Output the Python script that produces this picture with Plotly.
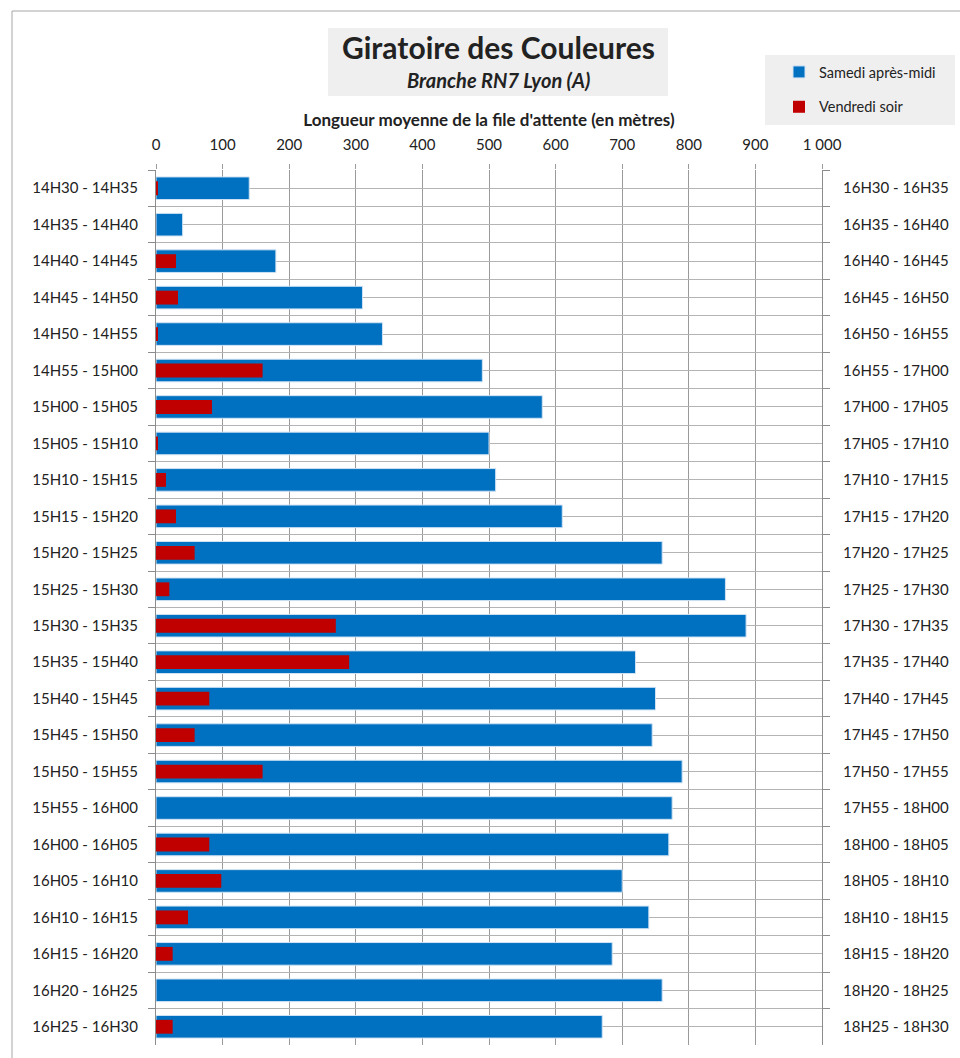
import plotly.graph_objects as go

# Time slots: Saturday afternoon (left axis) and Friday evening (right axis)
creneaux_samedi = [
    "14H30 - 14H35", "14H35 - 14H40", "14H40 - 14H45", "14H45 - 14H50",
    "14H50 - 14H55", "14H55 - 15H00", "15H00 - 15H05", "15H05 - 15H10",
    "15H10 - 15H15", "15H15 - 15H20", "15H20 - 15H25", "15H25 - 15H30",
    "15H30 - 15H35", "15H35 - 15H40", "15H40 - 15H45", "15H45 - 15H50",
    "15H50 - 15H55", "15H55 - 16H00", "16H00 - 16H05", "16H05 - 16H10",
    "16H10 - 16H15", "16H15 - 16H20", "16H20 - 16H25", "16H25 - 16H30",
]
creneaux_vendredi = [
    "16H30 - 16H35", "16H35 - 16H40", "16H40 - 16H45", "16H45 - 16H50",
    "16H50 - 16H55", "16H55 - 17H00", "17H00 - 17H05", "17H05 - 17H10",
    "17H10 - 17H15", "17H15 - 17H20", "17H20 - 17H25", "17H25 - 17H30",
    "17H30 - 17H35", "17H35 - 17H40", "17H40 - 17H45", "17H45 - 17H50",
    "17H50 - 17H55", "17H55 - 18H00", "18H00 - 18H05", "18H05 - 18H10",
    "18H10 - 18H15", "18H15 - 18H20", "18H20 - 18H25", "18H25 - 18H30",
]

# Mean queue length (metres)
samedi = [140, 40, 180, 310, 340, 490, 580, 500, 510, 610, 760, 855,
          886, 720, 750, 745, 790, 775, 770, 700, 740, 685, 760, 670]
vendredi = [3, 0, 30, 33, 3, 160, 84, 3, 15, 30, 58, 20,
            270, 290, 80, 58, 160, 0, 80, 98, 48, 25, 0, 25]

FONT = "Lato"
TXT = "#222222"
BLUE = "#0070c0"
RED = "#c00000"

W, H = 960, 1058
L, R, T, B = 156, 138, 170, 13
pw, ph = W - L - R, H - T - B


def px_x(p):
    return (p - L) / pw


def px_y(p):
    return (H - B - p) / ph


fig = go.Figure()
fig.add_trace(go.Bar(
    y=creneaux_samedi, x=samedi, orientation="h",
    name="Samedi après-midi", legendgroup="samedi",
    marker=dict(color=BLUE, line=dict(color="#cfe2f4", width=1)),
    width=0.62, yaxis="y",
))
fig.add_trace(go.Bar(
    y=creneaux_vendredi, x=vendredi, orientation="h",
    name="Vendredi soir", legendgroup="vendredi",
    marker=dict(color=RED, line=dict(width=0)),
    width=0.38, yaxis="y2",
))

n = len(creneaux_samedi)

fig.update_layout(
    width=W, height=H,
    margin=dict(l=L, r=R, t=T, b=B),
    paper_bgcolor="white", plot_bgcolor="white",
    separators=", ",
    barmode="overlay",
    font=dict(family=FONT, size=15, color=TXT),
    xaxis=dict(
        side="top", range=[0, 1000], dtick=100, tickformat=",d",
        showgrid=True, gridcolor="#9a9a9a", gridwidth=1,
        zeroline=False, showline=False,
        ticks="outside", ticklen=5, tickcolor="#9a9a9a",
        ticklabelstandoff=8,
        tickfont=dict(size=15, color=TXT),
        title=dict(text="<b>Longueur moyenne de la file d'attente (en mètres)</b>",
                   font=dict(size=17, color=TXT), standoff=4),
    ),
    yaxis=dict(
        type="category", categoryorder="array", categoryarray=creneaux_samedi,
        range=[n - 0.5, -0.5], tickson="boundaries",
        showgrid=True, gridcolor="#b4b4b4", gridwidth=1,
        showline=True, linecolor="#8c8c8c", linewidth=1, mirror="ticks",
        ticks="outside", ticklen=7, tickcolor="#8c8c8c",
        ticklabelstandoff=14,
        tickfont=dict(size=15, color=TXT), zeroline=False,
    ),
    yaxis2=dict(
        type="category", categoryorder="array", categoryarray=creneaux_vendredi,
        range=[n - 0.5, -0.5], overlaying="y", side="right",
        showgrid=True, gridcolor="#b4b4b4", gridwidth=1,
        showline=False, ticks="", ticklabelstandoff=20,
        tickfont=dict(size=15, color=TXT), zeroline=False,
    ),
    showlegend=True,
    legend=dict(
        x=px_x(779), y=px_y(56), xanchor="left", yanchor="top",
        bgcolor="rgba(0,0,0,0)", font=dict(size=14.5, color=TXT),
        traceorder="grouped", tracegroupgap=13, itemwidth=30,
    ),
)

shapes = [
    # title background
    dict(type="rect", xref="paper", yref="paper", layer="below",
         x0=px_x(328), x1=px_x(668), y0=px_y(96), y1=px_y(28),
         fillcolor="#efefef", line=dict(width=0)),
    # legend background
    dict(type="rect", xref="paper", yref="paper", layer="below",
         x0=px_x(765), x1=px_x(955), y0=px_y(125), y1=px_y(55),
         fillcolor="#efefef", line=dict(width=0)),
    # outer frame
    dict(type="line", xref="paper", yref="paper",
         x0=px_x(12), x1=px_x(962), y0=px_y(11), y1=px_y(11),
         line=dict(color="#a6a6a6", width=1)),
    dict(type="line", xref="paper", yref="paper",
         x0=px_x(12), x1=px_x(12), y0=px_y(11), y1=px_y(1060),
         line=dict(color="#a6a6a6", width=1)),
]

annotations = [
    dict(text="<b>Giratoire des Couleures</b>", xref="paper", yref="paper",
         x=px_x(498), y=px_y(47), xanchor="center", yanchor="middle",
         showarrow=False, font=dict(size=30, color=TXT, family=FONT)),
    dict(text="<b><i>Branche RN7 Lyon (A)</i></b>", xref="paper", yref="paper",
         x=px_x(498), y=px_y(80), xanchor="center", yanchor="middle",
         showarrow=False, font=dict(size=20, color=TXT, family=FONT)),
]

fig.update_layout(shapes=shapes, annotations=annotations)

fig.write_html("out.html")
